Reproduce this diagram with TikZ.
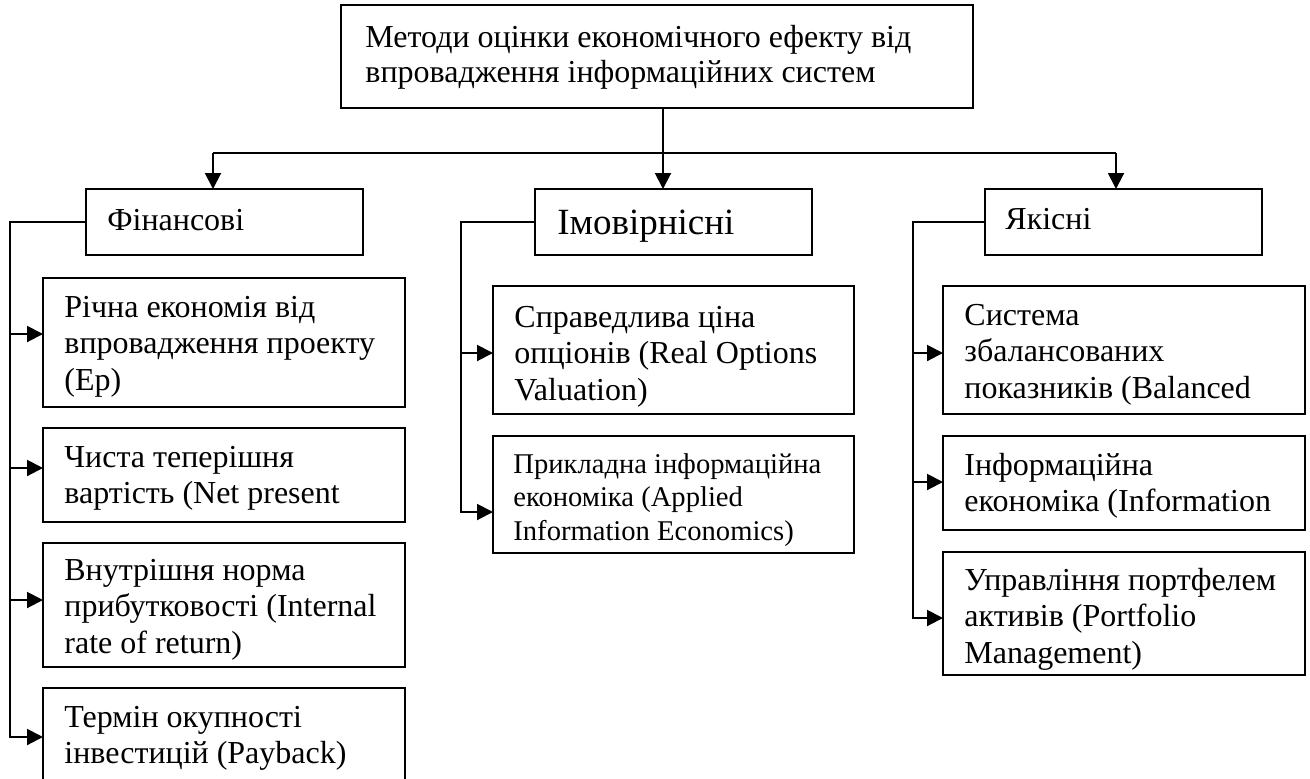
\documentclass[tikz,border=0pt]{standalone}
\usepackage{fontspec}
\setmainfont{Liberation Serif}
\usetikzlibrary{arrows.meta}
\tikzset{
  plainbox/.style={draw, line width=1pt, outer sep=0pt, inner sep=0pt, anchor=north west},
  boxtext/.style={anchor=base west, inner sep=0pt, align=left, font=\fontsize{16}{18.4}\selectfont},
  smalltext/.style={boxtext, font=\fontsize{14.3}{16.8}\selectfont},
  bigtext/.style={boxtext, font=\fontsize{18.5}{22}\selectfont},
  toptext/.style={boxtext, font=\fontsize{16}{17.6}\selectfont},
  link/.style={line width=1pt},
  arrowline/.style={line width=1pt, -{Triangle[length=8pt, width=8pt]}}
}

\begin{document}
\begin{tikzpicture}[x=0.5pt, y=-0.5pt]
  \useasboundingbox (0,0) rectangle (1310,778);
  \clip (0,0) rectangle (1310,778);

  % root (text nodes sit on the baseline of their last line)
  \node[plainbox, minimum width=316pt, minimum height=51.5pt] at (341,5) (methods) {};
  \node[toptext] at ([xshift=12pt, yshift=-38.6pt]methods.north west) (methodstext)
    {Методи оцінки економічного ефекту від\\впровадження інформаційних систем};

  % groups
  \node[plainbox, minimum width=138.5pt, minimum height=33pt] at (86,189) (fin) {};
  \node[boxtext] at ([xshift=10.5pt, yshift=-20.5pt]fin.north west) (fintext) {Фінансові};
  \node[plainbox, minimum width=138.5pt, minimum height=33pt] at (535,189) (prob) {};
  \node[bigtext] at ([xshift=11pt, yshift=-22.5pt]prob.north west) (probtext) {Імовірнісні};
  \node[plainbox, minimum width=138.5pt, minimum height=33pt] at (985,189) (qual) {};
  \node[boxtext] at ([xshift=10pt, yshift=-20pt]qual.north west) (qualtext) {Якісні};

  % financial methods
  \node[plainbox, minimum width=181pt, minimum height=64.5pt] at (43,278) (finA) {};
  \node[boxtext] at ([xshift=10.5pt, yshift=-56.3pt]finA.north west) (finAtext)
    {Річна економія від\\впровадження проекту\\(Ер)};
  \node[plainbox, minimum width=181pt, minimum height=47pt] at (43,428) (finB) {};
  \node[boxtext] at ([xshift=10.5pt, yshift=-37.9pt]finB.north west) (finBtext)
    {Чиста теперішня\\вартість (Net present};
  \node[plainbox, minimum width=181pt, minimum height=62pt] at (43,543) (finC) {};
  \node[boxtext] at ([xshift=10.5pt, yshift=-55.3pt]finC.north west) (finCtext)
    {Внутрішня норма\\прибутковості (Internal\\rate of return)};
  \node[plainbox, minimum width=181pt, minimum height=60pt] at (43,688) (finD) {};
  \node[boxtext] at ([xshift=10.5pt, yshift=-37.9pt]finD.north west) (finDtext)
    {Термін окупності\\інвестицій (Payback)};

  % probabilistic methods
  \node[plainbox, minimum width=180.5pt, minimum height=64pt] at (493,286) (probA) {};
  \node[boxtext] at ([xshift=10.5pt, yshift=-57.3pt]probA.north west) (probAtext)
    {Справедлива ціна\\опціонів (Real Options\\Valuation)};
  \node[plainbox, minimum width=180.5pt, minimum height=58.5pt] at (493,436) (probB) {};
  \node[smalltext] at ([xshift=10pt, yshift=-52.1pt]probB.north west) (probBtext)
    {Прикладна інформаційна\\економіка (Applied\\Information Economics)};

  % qualitative methods
  \node[plainbox, minimum width=181pt, minimum height=64pt] at (943,286) (qualA) {};
  \node[boxtext] at ([xshift=10.5pt, yshift=-56.3pt]qualA.north west) (qualAtext)
    {Система\\збалансованих\\показників (Balanced};
  \node[plainbox, minimum width=181pt, minimum height=47pt] at (943,436) (qualB) {};
  \node[boxtext] at ([xshift=10.5pt, yshift=-37.9pt]qualB.north west) (qualBtext)
    {Інформаційна\\економіка (Information};
  \node[plainbox, minimum width=181pt, minimum height=61.5pt] at (943,552) (qualC) {};
  \node[boxtext] at ([xshift=10.5pt, yshift=-55.8pt]qualC.north west) (qualCtext)
    {Управління портфелем\\активів (Portfolio\\Management)};

  % root to groups
  \coordinate (busL) at (213,153);
  \coordinate (busR) at (1116,153);
  \draw[link] ([xshift=3pt]methods.south) -- ([xshift=3pt]methods.south |- busL);
  \draw[link] (busL) -- (busR);
  \draw[arrowline] (busL) -- (busL |- fin.north);
  \draw[arrowline] ([xshift=3pt]methods.south |- busL) -- ([xshift=3pt]methods.south |- prob.north);
  \draw[arrowline] (busR) -- (busR |- qual.north);

  % groups to methods
  \draw[arrowline] (fin.west) -- ++(-76,0) |- ([yshift=4.25pt]finA.west);
  \draw[arrowline] (fin.west) -- ++(-76,0) |- ([yshift=3.5pt]finB.west);
  \draw[arrowline] (fin.west) -- ++(-76,0) |- ([yshift=2.5pt]finC.west);
  \draw[arrowline] (fin.west) -- ++(-76,0) |- ([yshift=5.5pt]finD.west);

  \draw[arrowline] (prob.west) -- ++(-74,0) |- ([yshift=-1.5pt]probA.west);
  \draw[arrowline] (prob.west) -- ++(-74,0) |- ([yshift=-8.75pt]probB.west);

  \draw[arrowline] (qual.west) -- ++(-72,0) |- ([yshift=-1.5pt]qualA.west);
  \draw[arrowline] (qual.west) -- ++(-72,0) |- ([yshift=0.5pt]qualB.west);
  \draw[arrowline] (qual.west) -- ++(-72,0) |- ([yshift=-2.25pt]qualC.west);
\end{tikzpicture}
\end{document}
